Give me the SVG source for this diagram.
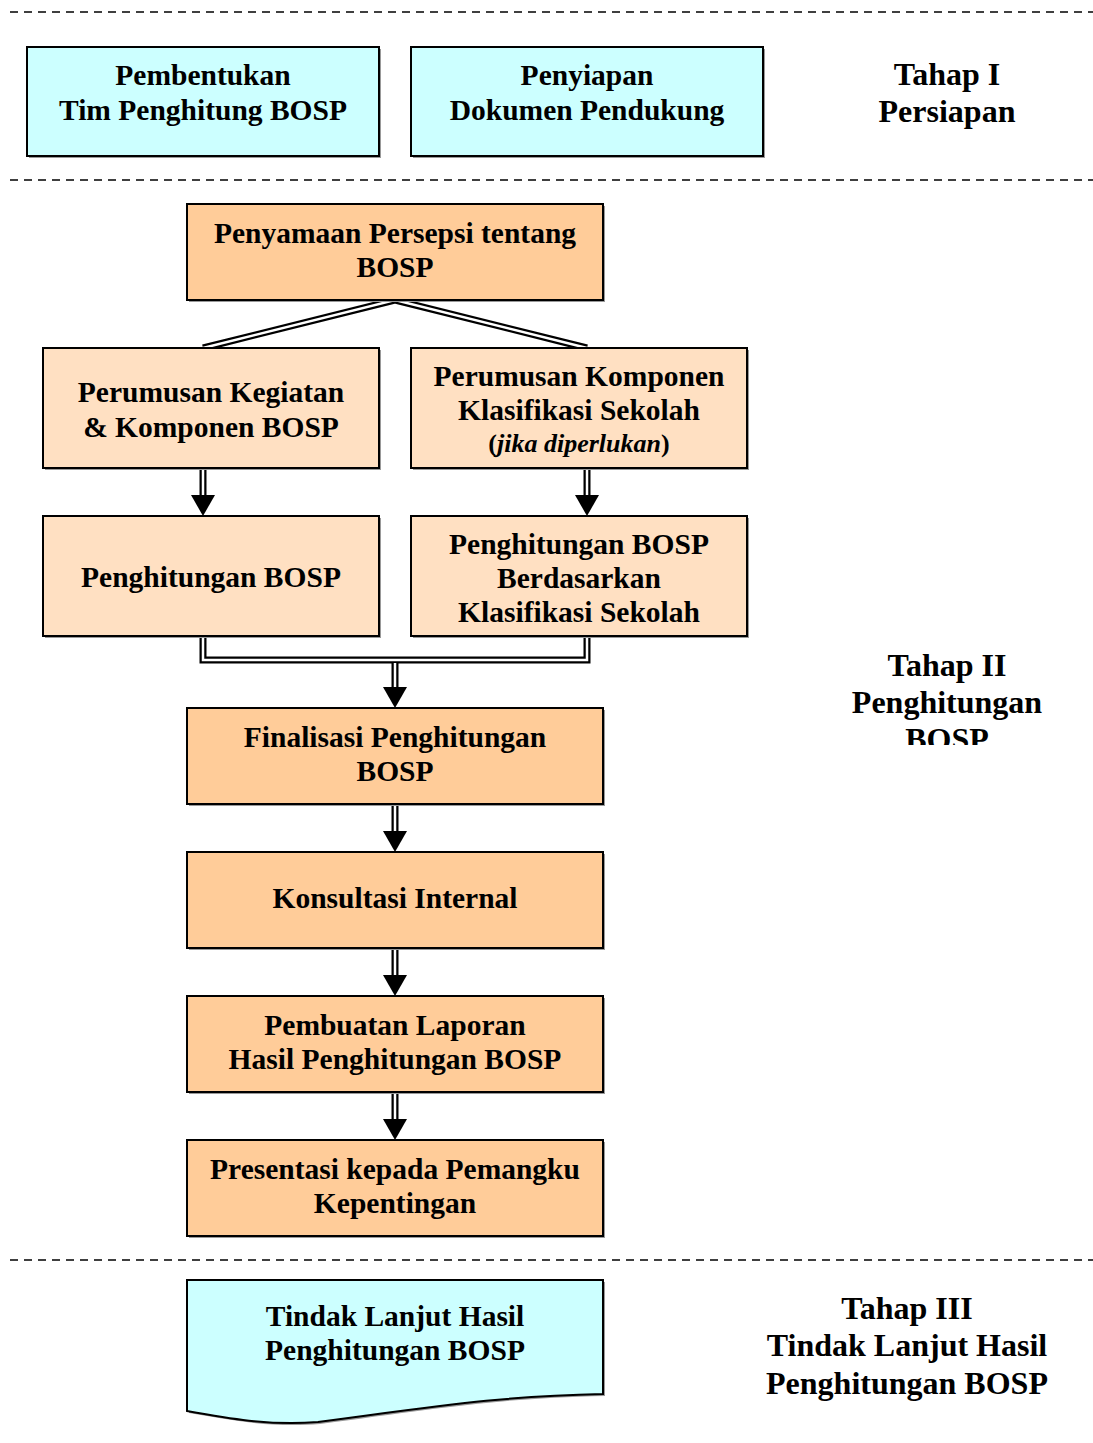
<svg xmlns="http://www.w3.org/2000/svg" width="1093" height="1443" viewBox="0 0 1093 1443">
<defs>
<style>
.dash{stroke:#000;stroke-width:1.5;stroke-dasharray:8,6;fill:none}
.cyan{fill:#CCFFFF;stroke:#000;stroke-width:2}
.orng{fill:#FFCC99;stroke:#000;stroke-width:2}
.peach{fill:#FFE0C2;stroke:#000;stroke-width:2}
.shd{fill:#999}
.t{font-family:"Liberation Serif","Times New Roman",serif;font-weight:bold;font-size:29.5px;text-anchor:middle;fill:#000}
.h{font-family:"Liberation Serif","Times New Roman",serif;font-weight:bold;font-size:32px;text-anchor:middle;fill:#000}
.outer{stroke:#000;stroke-width:7;fill:none;stroke-linejoin:miter}
.inner{stroke:#fff;stroke-width:2.5;fill:none;stroke-linejoin:miter}
.head{fill:#000}
</style>
<clipPath id="clip2"><rect x="760" y="600" width="333" height="145"/></clipPath>
</defs>

<g id="dividers">
<line class="dash" x1="10" y1="12" x2="1093" y2="12"/>
<line class="dash" x1="10" y1="180" x2="1093" y2="180"/>
<line class="dash" x1="10" y1="1260" x2="1093" y2="1260"/>
</g>

<g id="connectors">
<path class="outer" d="M203,348 L395,300 L587,348"/>
<path class="inner" d="M203,348 L395,300 L587,348"/>
<path class="outer" d="M203,468 V498"/><path class="inner" d="M203,468 V498"/>
<polygon class="head" points="191,495 215,495 203,516"/>
<path class="outer" d="M587,468 V498"/><path class="inner" d="M587,468 V498"/>
<polygon class="head" points="575,495 599,495 587,516"/>
<path class="outer" d="M203,636 V660 H587 V636"/>
<path class="inner" d="M203,636 V660 H587 V636"/>
<path class="outer" d="M395,663 V690"/><path class="inner" d="M395,663 V690"/>
<polygon class="head" points="383,687 407,687 395,708"/>
<path class="outer" d="M395,804 V834"/><path class="inner" d="M395,804 V834"/>
<polygon class="head" points="383,831 407,831 395,852"/>
<path class="outer" d="M395,948 V978"/><path class="inner" d="M395,948 V978"/>
<polygon class="head" points="383,975 407,975 395,996"/>
<path class="outer" d="M395,1092 V1122"/><path class="inner" d="M395,1092 V1122"/>
<polygon class="head" points="383,1119 407,1119 395,1140"/>
</g>

<g id="n-pembentukan">
<rect class="shd" x="29" y="49" width="352" height="109"/>
<rect class="cyan" x="27" y="47" width="352" height="109"/>
<text class="t" x="203" y="85">Pembentukan</text>
<text class="t" x="203" y="120">Tim Penghitung BOSP</text>
</g>
<g id="n-penyiapan">
<rect class="shd" x="413" y="49" width="352" height="109"/>
<rect class="cyan" x="411" y="47" width="352" height="109"/>
<text class="t" x="587" y="85">Penyiapan</text>
<text class="t" x="587" y="120">Dokumen Pendukung</text>
</g>
<g id="tahap1">
<text class="h" x="947" y="85">Tahap I</text>
<text class="h" x="947" y="122">Persiapan</text>
</g>

<g id="n-penyamaan">
<rect class="shd" x="189" y="206" width="416" height="96"/>
<rect class="orng" x="187" y="204" width="416" height="96"/>
<text class="t" x="395" y="243">Penyamaan Persepsi tentang</text>
<text class="t" x="395" y="277">BOSP</text>
</g>
<g id="n-perumusan-kegiatan">
<rect class="shd" x="45" y="350" width="336" height="120"/>
<rect class="peach" x="43" y="348" width="336" height="120"/>
<text class="t" x="211" y="402">Perumusan Kegiatan</text>
<text class="t" x="211" y="437">&amp; Komponen BOSP</text>
</g>
<g id="n-perumusan-komponen">
<rect class="shd" x="413" y="350" width="336" height="120"/>
<rect class="peach" x="411" y="348" width="336" height="120"/>
<text class="t" x="579" y="386">Perumusan Komponen</text>
<text class="t" x="579" y="420">Klasifikasi Sekolah</text>
<text class="t" x="579" y="452" style="font-size:26px">(<tspan font-style="italic">jika diperlukan</tspan>)</text>
</g>
<g id="n-penghitungan">
<rect class="shd" x="45" y="518" width="336" height="120"/>
<rect class="peach" x="43" y="516" width="336" height="120"/>
<text class="t" x="211" y="587">Penghitungan BOSP</text>
</g>
<g id="n-penghitungan-klasifikasi">
<rect class="shd" x="413" y="518" width="336" height="120"/>
<rect class="peach" x="411" y="516" width="336" height="120"/>
<text class="t" x="579" y="554">Penghitungan BOSP</text>
<text class="t" x="579" y="588">Berdasarkan</text>
<text class="t" x="579" y="622">Klasifikasi Sekolah</text>
</g>
<g id="n-finalisasi">
<rect class="shd" x="189" y="710" width="416" height="96"/>
<rect class="orng" x="187" y="708" width="416" height="96"/>
<text class="t" x="395" y="747">Finalisasi Penghitungan</text>
<text class="t" x="395" y="781">BOSP</text>
</g>
<g id="n-konsultasi">
<rect class="shd" x="189" y="854" width="416" height="96"/>
<rect class="orng" x="187" y="852" width="416" height="96"/>
<text class="t" x="395" y="908">Konsultasi Internal</text>
</g>
<g id="n-pembuatan">
<rect class="shd" x="189" y="998" width="416" height="96"/>
<rect class="orng" x="187" y="996" width="416" height="96"/>
<text class="t" x="395" y="1035">Pembuatan Laporan</text>
<text class="t" x="395" y="1069">Hasil Penghitungan BOSP</text>
</g>
<g id="n-presentasi">
<rect class="shd" x="189" y="1142" width="416" height="96"/>
<rect class="orng" x="187" y="1140" width="416" height="96"/>
<text class="t" x="395" y="1179">Presentasi kepada Pemangku</text>
<text class="t" x="395" y="1213">Kepentingan</text>
</g>
<g id="tahap2" clip-path="url(#clip2)">
<text class="h" x="947" y="676">Tahap II</text>
<text class="h" x="947" y="713">Penghitungan</text>
<text class="h" x="947" y="750">BOSP</text>
</g>

<g id="n-tindak-lanjut">
<path class="shd" d="M189,1282 H605 V1396 C500,1398 440,1408 320,1424 C270,1428 230,1420 189,1413 Z"/>
<path class="cyan" d="M187,1280 H603 V1394 C500,1396 440,1406 318,1422 C268,1426 228,1418 187,1411 Z"/>
<text class="t" x="395" y="1326">Tindak Lanjut Hasil</text>
<text class="t" x="395" y="1360">Penghitungan BOSP</text>
</g>
<g id="tahap3">
<text class="h" x="907" y="1319">Tahap III</text>
<text class="h" x="907" y="1356">Tindak Lanjut Hasil</text>
<text class="h" x="907" y="1394">Penghitungan BOSP</text>
</g>
</svg>
